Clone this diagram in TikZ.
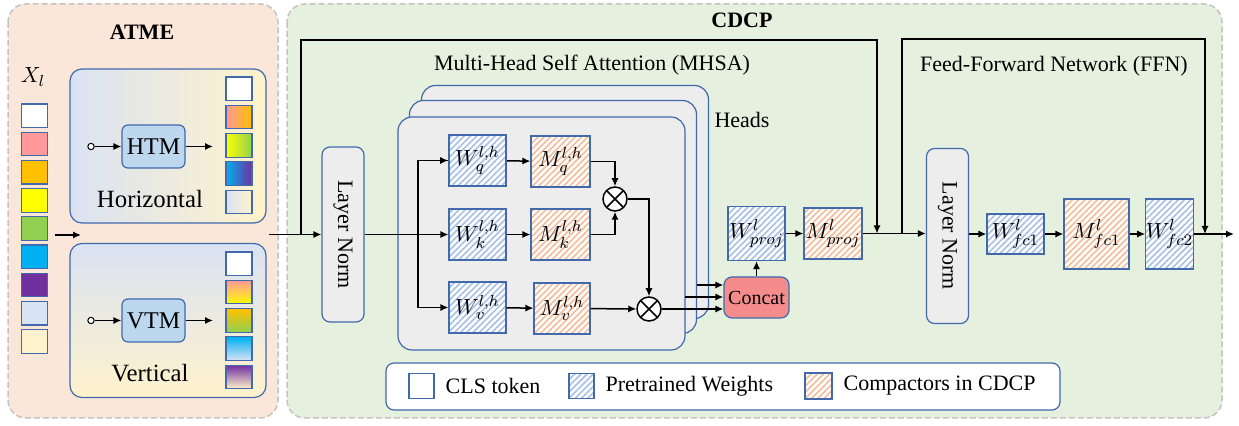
\documentclass[tikz,border=0pt]{standalone}
\usepackage{fontspec}
\setmainfont{Liberation Serif}
\usetikzlibrary{arrows.meta,patterns.meta,positioning}

\definecolor{atmebg}{HTML}{FBE6DA}
\definecolor{cdcpbg}{HTML}{E5F1DE}
\definecolor{dashgray}{HTML}{C4C4C4}
\definecolor{boxblue}{HTML}{4169AC}
\definecolor{headgray}{HTML}{EDEDED}
\definecolor{htmblue}{HTML}{BDD7EE}
\definecolor{concatred}{HTML}{F48C8C}
\definecolor{hatchblue}{HTML}{A8C0E8}
\definecolor{hatchorange}{HTML}{F6BC98}
\definecolor{lblue}{HTML}{DAE3F3}
\definecolor{cream}{HTML}{FFF2CC}
\definecolor{tokpink}{HTML}{FF9999}
\definecolor{tokorange}{HTML}{FFC000}
\definecolor{tokyellow}{HTML}{FFFF00}
\definecolor{tokgreen}{HTML}{92D050}
\definecolor{tokcyan}{HTML}{00B0F0}
\definecolor{tokpurple}{HTML}{7030A0}

\begin{document}
\begin{tikzpicture}
  [
    x=0.5pt, y=-0.5pt,
    font=\fontsize{11}{13}\selectfont,
    region/.style =
      {draw=dashgray, line width=0.75pt, dash pattern=on 3pt off 1.5pt, rounded corners=9pt},
    tok/.style =
      {draw=boxblue, line width=0.6pt, inner sep=0pt, minimum width=12.8pt, minimum height=11.8pt},
    panel/.style =
      {draw=boxblue, line width=0.6pt, rounded corners=6pt, minimum width=98pt, minimum height=77pt},
    op/.style =
      {draw=boxblue, fill=htmblue, line width=0.6pt, rounded corners=3pt, inner sep=0pt,
       minimum width=31.5pt, minimum height=21.5pt, font=\fontsize{12}{14}\selectfont},
    port/.style =
      {draw, fill=white, circle, line width=0.5pt, inner sep=0pt, minimum size=3.2pt},
    head/.style =
      {draw=boxblue, fill=headgray, line width=0.6pt, rounded corners=7pt,
       minimum width=143.5pt, minimum height=116.5pt},
    lnorm/.style =
      {draw=boxblue, fill=headgray, line width=0.6pt, rounded corners=4pt, inner sep=0pt,
       minimum width=21pt, minimum height=87.5pt},
    wbox/.style =
      {draw=boxblue, line width=0.6pt, inner sep=0pt, preaction={fill=white},
       pattern={Lines[angle=45, distance=2.2pt, line width=0.8pt]}, pattern color=hatchblue},
    mbox/.style =
      {draw=boxblue, line width=0.6pt, inner sep=0pt, preaction={fill=white},
       pattern={Lines[angle=45, distance=2.2pt, line width=0.8pt]}, pattern color=hatchorange},
    mul/.style =
      {draw, circle, fill=white, line width=0.75pt, inner sep=0pt, minimum size=12pt,
       path picture={\draw[line width=0.75pt]
         (path picture bounding box.north west) -- (path picture bounding box.south east)
         (path picture bounding box.north east) -- (path picture bounding box.south west);}},
    arr/.style =
      {->, >={Latex[length=4pt, width=3.6pt]}, line width=0.75pt},
    wire/.style =
      {line width=0.75pt}
  ]
  \useasboundingbox (0,0) rectangle (1239,426);

  \draw [region, fill=atmebg] (8,4) rectangle (278,418);
  \draw [region, fill=cdcpbg] (287,4) rectangle (1222,418);

  \node [font=\fontsize{11}{13}\selectfont\bfseries] (atme) at (142,32) {ATME};
  \node [font=\fontsize{11}{13}\selectfont\bfseries] (cdcp) at (742,20) {CDCP};

  \node (xl) at (33,77) {$X_l$};
  \foreach \c [count=\i] in {white, tokpink, tokorange, tokyellow, tokgreen, tokcyan, tokpurple, lblue, cream}
    \node [tok, fill=\c] (x\i) at (34.5,{115.8+28.2*(\i-1)}) {};
  \coordinate (xa) at (55,235);
  \coordinate (xb) at (81,235);
  \draw [arr] (xa) -- (xb);

  \node [panel, left color=lblue, right color=cream] (hpanel) at (168,146) {};
  \node [panel, top color=lblue, bottom color=cream] (vpanel) at (168,320.5) {};

  \node [op] (htm) at (153.5,146.5) {HTM};
  \node [port] (hin) at (91,146.5) {};
  \coordinate (hout) at (213,146.5);
  \draw [arr] (hin) -- (htm.west);
  \draw [arr] (htm.east) -- (hout);
  \node (hlabel) at (150,199) {\fontsize{12.4}{14}\selectfont Horizontal};

  \node [op] (vtm) at (153.5,320.5) {VTM};
  \node [port] (vin) at (91,320.5) {};
  \coordinate (vout) at (213,320.5);
  \draw [arr] (vin) -- (vtm.west);
  \draw [arr] (vtm.east) -- (vout);
  \node (vlabel) at (150,373) {\fontsize{12.4}{14}\selectfont Vertical};

  \foreach \a/\b [count=\i] in {white/white, tokpink/tokorange, tokyellow/tokgreen, tokcyan/tokpurple, lblue/cream}
    \node [tok, minimum width=13pt, left color=\a, right color=\b] (h\i) at (239,{88.8+28.3*(\i-1)}) {};
  \foreach \a/\b [count=\i] in {white/white, tokpink/tokyellow, tokorange/tokgreen, tokcyan/lblue, tokpurple/cream}
    \node [tok, minimum width=13pt, top color=\a, bottom color=\b] (v\i) at (239,{263.8+28.3*(\i-1)}) {};

  \node (mhsa) at (592,65) {Multi-Head Self Attention (MHSA)};
  \node (ffn) at (1054,66) {Feed-Forward Network (FFN)};
  \node (heads) at (742,120) {Heads};

  \node [head] (head3) at (565,202) {};
  \node [head] (head2) at (553,217) {};
  \node [head] (head1) at (541.5,233.5) {};

  \node [lnorm] (ln1) at (343,234.5) {\rotatebox{-90}{Layer Norm}};
  \node [lnorm] (ln2) at (947.5,236) {\rotatebox{-90}{Layer Norm}};

  \node [wbox, minimum width=28.5pt, minimum height=25.5pt] (wq) at (477.5,160.5) {$W_q^{l,h}$};
  \node [mbox, minimum width=29.5pt, minimum height=25.5pt] (mq) at (560.5,161.5) {$M_q^{l,h}$};
  \node [wbox, minimum width=28.5pt, minimum height=25.5pt] (wk) at (477.5,234.5) {$W_k^{l,h}$};
  \node [mbox, minimum width=29.5pt, minimum height=25.5pt] (mk) at (560.5,234.5) {$M_k^{l,h}$};
  \node [wbox, minimum width=28.5pt, minimum height=25.5pt] (wv) at (477.5,307.5) {$W_v^{l,h}$};
  \node [mbox, minimum width=28pt, minimum height=25.5pt] (mv) at (562,308.5) {$M_v^{l,h}$};
  \node [mul] (ot1) at (615,199) {};
  \node [mul] (ot2) at (649,309) {};

  \node [draw=boxblue, fill=concatred, line width=0.6pt, rounded corners=4pt, inner sep=0pt,
         minimum width=32.5pt, minimum height=20.5pt, font=\fontsize{10}{12}\selectfont] (concat) at (756.5,297.5) {Concat};
  \node [wbox, minimum width=28.5pt, minimum height=27pt] (wproj) at (756.5,233.5) {$W_{proj}^{l}$};
  \node [mbox, minimum width=29pt, minimum height=25.5pt] (mproj) at (833,233.5) {$M_{proj}^{l}$};

  \node [wbox, minimum width=28.5pt, minimum height=20pt] (wfc1) at (1015.5,234) {$W_{fc1}^{l}$};
  \node [mbox, minimum width=32.5pt, minimum height=35pt] (mfc1) at (1096.5,234) {$M_{fc1}^{l}$};
  \node [wbox, minimum width=21.5pt, minimum height=35pt] (wfc2) at (1169.5,234) {$W_{fc2}^{l}$};

  \coordinate (cin) at (269,234.5);
  \coordinate (r1s) at (301,234.5);
  \coordinate (r1top) at (589,40);
  \coordinate (r1e) at (877,233.5);
  \coordinate (r2s) at (902,233.5);
  \coordinate (r2top) at (1054,39);
  \coordinate (r2e) at (1205,234);
  \coordinate (out) at (1234,234);
  \coordinate (br) at (418,234.5);
  \coordinate (cat2) at (685,297);
  \coordinate (cat3) at (697,285);

  \draw [arr] (cin) -- (ln1.west);
  \draw [arr] (r1s) |- (r1top) -| (r1e);
  \draw [arr] (ln1.east) -- (wk.west);
  \draw [wire] (br) |- (wq.west);
  \draw [arr] (br |- wq.west) -- (wq.west);
  \draw [arr] (br) |- (wv.west);
  \draw [arr] (wq) -- (mq);
  \draw [arr] (wk) -- (mk);
  \draw [arr] (wv) -- (mv);
  \draw [arr] (mq.east) -| (ot1.north);
  \draw [arr] (mk.east) -| (ot1.south);
  \draw [arr] (ot1.east) -| (ot2.north);
  \draw [arr] (mv) -- (ot2);
  \draw [arr] (ot2.east) -- (ot2.east -| concat.west);
  \draw [arr] (cat2) -- (cat2 -| concat.west);
  \draw [arr] (cat3) -- (cat3 -| concat.west);
  \draw [arr] (concat) -- (wproj);
  \draw [arr] (wproj) -- (mproj);
  \draw [arr] (mproj.east) -- (mproj.east -| ln2.west);
  \draw [arr] (r2s) |- (r2top) -| (r2e);
  \draw [arr] (ln2.east |- wfc1.west) -- (wfc1.west);
  \draw [arr] (wfc1) -- (mfc1);
  \draw [arr] (mfc1) -- (wfc2);
  \draw [arr] (wfc2.east) -- (out);

  \node [draw=boxblue, fill=white, line width=0.6pt, rounded corners=4pt,
         minimum width=337pt, minimum height=23.5pt] (legend) at (723,386.5) {};
  \node [tok, fill=white, minimum width=12.5pt, minimum height=12.5pt] (lgcls) at (421.5,386) {};
  \node [right=2pt of lgcls] (lgclstxt) {CLS token};
  \node [wbox, minimum width=12.5pt, minimum height=12.5pt] (lgw) at (581.5,386) {};
  \node [right=2pt of lgw] (lgwtxt) {Pretrained Weights};
  \node [mbox, minimum width=13.5pt, minimum height=13pt] (lgm) at (818.5,386) {};
  \node [right=2pt of lgm] (lgmtxt) {Compactors in CDCP};
\end{tikzpicture}
\end{document}
